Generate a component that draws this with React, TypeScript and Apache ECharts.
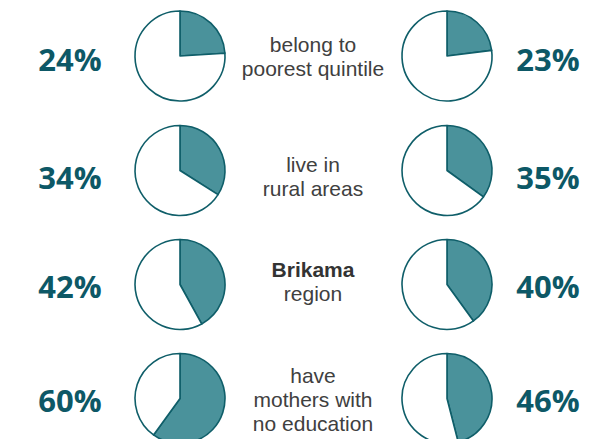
import React, { useEffect, useRef } from "react";
import * as echarts from "echarts";

const categories = [
  "belong to\npoorest quintile",
  "live in\nrural areas",
  "{b|Brikama}\nregion",
  "have\nmothers with\nno education",
];
const leftValues = [24, 34, 42, 60];
const rightValues = [23, 35, 40, 46];

const W = 611;
const H = 439;
const pieCY = [56, 170.5, 284.5, 398.5];
const labelCY = [59, 177, 286, 400];
const textCY = [56.5, 176, 281, 399.5];
const leftPieX = 180;
const rightPieX = 447;
const leftLabelX = 70;
const rightLabelX = 548;
const textX = 313;
const R = 45;

const FILL = "#4a929b";
const STROKE = "#0f5e69";
const NUM = "#0d5866";
const TXT = "#404040";

export default function App() {
  const ref = useRef<HTMLDivElement>(null);
  useEffect(() => {
    if (!ref.current) return;
    const chart = echarts.init(ref.current, undefined, { renderer: "svg" });
    const series: any[] = [];
    const graphic: any[] = [];
    const makePie = (v: number, cx: number, cy: number) => ({
      type: "pie",
      center: [cx, cy],
      radius: [0, R],
      startAngle: 90,
      clockwise: true,
      label: { show: false },
      labelLine: { show: false },
      emphasis: { disabled: true },
      silent: true,
      itemStyle: { borderColor: STROKE, borderWidth: 1.6 },
      data: [
        { value: v, itemStyle: { color: FILL } },
        { value: 100 - v, itemStyle: { color: "#ffffff" } },
      ],
    });
    categories.forEach((cat, i) => {
      series.push(makePie(leftValues[i], leftPieX, pieCY[i]));
      series.push(makePie(rightValues[i], rightPieX, pieCY[i]));
      graphic.push({
        type: "text",
        x: leftLabelX,
        y: labelCY[i],
        style: {
          text: leftValues[i] + "%",
          fill: NUM,
          font: "bold 31px 'Open Sans'",
          align: "center",
          verticalAlign: "middle",
        },
      });
      graphic.push({
        type: "text",
        x: rightLabelX,
        y: labelCY[i],
        style: {
          text: rightValues[i] + "%",
          fill: NUM,
          font: "bold 31px 'Open Sans'",
          align: "center",
          verticalAlign: "middle",
        },
      });
      graphic.push({
        type: "text",
        x: textX,
        y: textCY[i],
        style: {
          text: cat,
          fill: TXT,
          fontFamily: "'Liberation Sans', Arial, sans-serif",
          fontSize: 21,
          lineHeight: 24,
          align: "center",
          verticalAlign: "middle",
          rich: {
            b: {
              fontWeight: "bold",
              fontSize: 21,
              lineHeight: 24,
              fill: "#333333",
              fontFamily: "'Liberation Sans', Arial, sans-serif",
            },
          },
        },
      });
    });
    chart.setOption({
      animation: false,
      backgroundColor: "#ffffff",
      series,
      graphic,
    });
    return () => chart.dispose();
  }, []);
  return (
    <div
      ref={ref}
      style={{ position: "fixed", left: 0, top: 0, width: W, height: H }}
    />
  );
}
